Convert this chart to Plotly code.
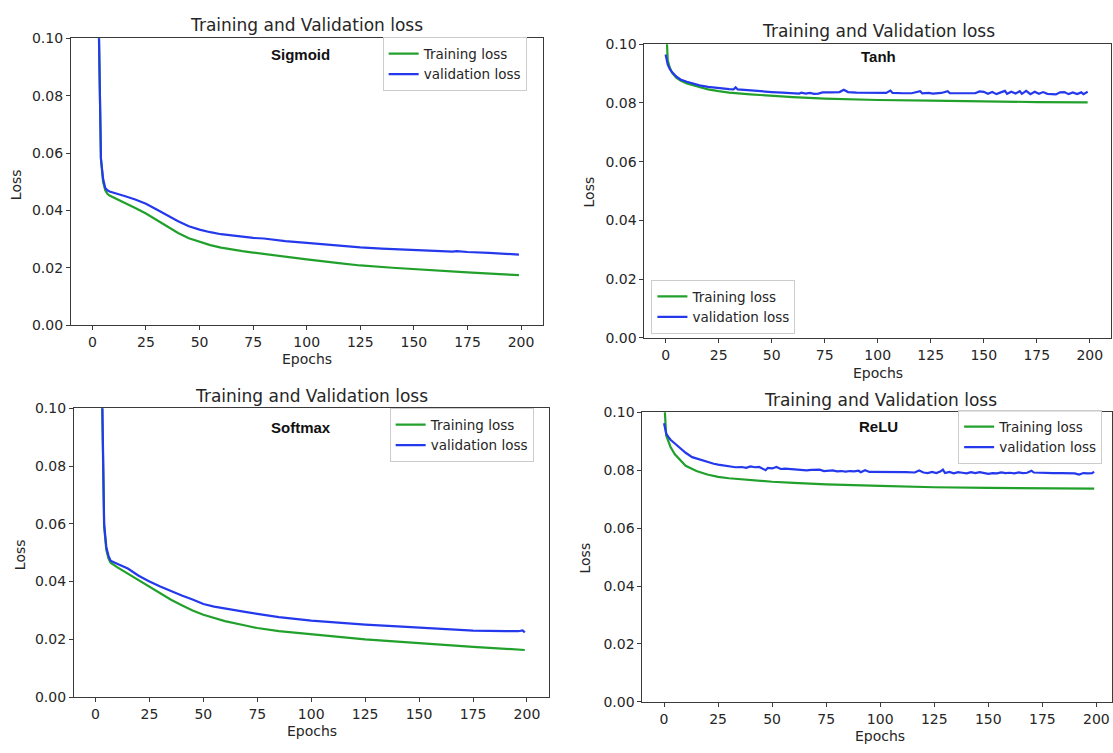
import plotly.graph_objects as go

W, H = 1113, 753

# ---------------- data ----------------
# Sigmoid
sig_train_ep = [2, 3, 4, 5, 6, 7, 8, 10, 15, 20, 25, 30, 35, 40, 45, 50, 55, 60, 65, 70, 75, 85,
                100, 115, 125, 140, 150, 165, 175, 190, 199]
sig_train = [0.19, 0.103, 0.058, 0.050, 0.047, 0.0458, 0.0452, 0.0445, 0.0425, 0.0408, 0.0389,
             0.0366, 0.0342, 0.0321, 0.0303, 0.0290, 0.0279, 0.0270, 0.0263, 0.0258, 0.0253,
             0.0243, 0.0229, 0.0216, 0.0208, 0.0200, 0.0195, 0.0188, 0.0184, 0.0178, 0.0174]
sig_val_ep = [2, 3, 4, 5, 6, 7, 8, 10, 15, 20, 25, 30, 35, 40, 45, 50, 55, 60, 65, 70, 75, 80,
              85, 90, 100, 110, 125, 135, 140, 150, 160, 168, 170, 175, 185, 199]
sig_val = [0.20, 0.105, 0.058, 0.051, 0.0478, 0.0470, 0.0466, 0.0462, 0.0450, 0.0438, 0.0423,
           0.0403, 0.0381, 0.0362, 0.0345, 0.0333, 0.0324, 0.0317, 0.0313, 0.0308, 0.0304,
           0.0302, 0.0297, 0.0293, 0.0287, 0.0280, 0.0271, 0.0267, 0.0265, 0.0261, 0.0258,
           0.0256, 0.0258, 0.0255, 0.0252, 0.0246]

# Tanh
tanh_train_ep = [0, 1, 2, 3, 5, 7, 10, 15, 20, 25, 30, 40, 50, 60, 75, 90, 100, 125, 150, 175, 199]
tanh_train = [0.110, 0.0945, 0.0920, 0.0903, 0.0886, 0.0876, 0.0866, 0.0855, 0.0846, 0.0840,
              0.0835, 0.0829, 0.0824, 0.0820, 0.0815, 0.0812, 0.0810, 0.0808, 0.0805, 0.0803,
              0.0802]
tanh_val_ep = [0, 1, 2, 3, 5, 7, 10, 13, 16, 20, 25, 30, 32, 33, 34, 40, 45, 50, 55, 60, 63, 64,
               66, 68, 70, 72, 74, 78, 82, 84, 86, 90, 95, 100, 104, 106, 107, 112, 116, 120, 121,
               124, 126, 130, 133, 134, 138, 142, 146, 148, 150, 152, 154, 156, 158, 160, 161,
               163, 165, 167, 168, 170, 172, 174, 176, 178, 180, 182, 184, 186, 188, 190, 192,
               194, 196, 197, 199]
tanh_val = [0.0965, 0.0930, 0.0915, 0.0905, 0.0890, 0.0880, 0.0872, 0.0866, 0.0860, 0.0855,
            0.0850, 0.0847, 0.0846, 0.0853, 0.0846, 0.0842, 0.0839, 0.0837, 0.0835, 0.0833,
            0.0832, 0.0835, 0.0832, 0.0834, 0.0831, 0.0832, 0.0836, 0.0836, 0.0837, 0.0845,
            0.0837, 0.0835, 0.0834, 0.0834, 0.0834, 0.0842, 0.0834, 0.0833, 0.0833, 0.0840,
            0.0833, 0.0834, 0.0832, 0.0834, 0.0840, 0.0833, 0.0832, 0.0833, 0.0833, 0.0839,
            0.0838, 0.0831, 0.0837, 0.0830, 0.0836, 0.0841, 0.0831, 0.0838, 0.0832, 0.0840,
            0.0831, 0.0841, 0.0830, 0.0838, 0.0831, 0.0837, 0.0831, 0.0829, 0.0829, 0.0836,
            0.0837, 0.0830, 0.0836, 0.0830, 0.0836, 0.0830, 0.0838]

# Softmax
soft_train_ep = [2, 3, 4, 5, 6, 7, 10, 15, 20, 25, 30, 35, 40, 45, 50, 55, 60, 70, 75, 85, 100,
                 115, 125, 140, 150, 165, 175, 190, 199]
soft_train = [0.19, 0.105, 0.059, 0.051, 0.048, 0.0465, 0.0450, 0.0427, 0.0404, 0.0381, 0.0358,
              0.0337, 0.0318, 0.0300, 0.0285, 0.0273, 0.0263, 0.0247, 0.0239, 0.0228, 0.0217,
              0.0207, 0.0200, 0.0192, 0.0186, 0.0179, 0.0174, 0.0167, 0.0163]
soft_val_ep = [2, 3, 4, 5, 6, 7, 10, 15, 20, 25, 30, 35, 40, 45, 50, 55, 60, 70, 75, 85, 100, 115,
               125, 140, 150, 165, 175, 190, 196, 198, 199]
soft_val = [0.20, 0.110, 0.060, 0.052, 0.0490, 0.0472, 0.0462, 0.0445, 0.0420, 0.0400, 0.0383,
            0.0367, 0.0352, 0.0338, 0.0322, 0.0313, 0.0306, 0.0294, 0.0288, 0.0277, 0.0265,
            0.0256, 0.0251, 0.0245, 0.0240, 0.0235, 0.0230, 0.0228, 0.0228, 0.0231, 0.0224]

# ReLU
relu_train_ep = [0, 1, 3, 5, 10, 15, 20, 25, 30, 40, 50, 60, 75, 100, 125, 150, 175, 199]
relu_train = [0.105, 0.0920, 0.0880, 0.0855, 0.0815, 0.0797, 0.0785, 0.0777, 0.0772, 0.0765,
              0.0760, 0.0756, 0.0751, 0.0746, 0.0741, 0.0739, 0.0737, 0.0736]
relu_val_ep = [0, 1, 2, 3, 5, 7, 10, 13, 15, 18, 20, 23, 25, 28, 30, 33, 36, 38, 40, 42, 44, 46,
               47, 48, 50, 52, 54, 56, 60, 64, 66, 68, 70, 72, 74, 76, 78, 80, 82, 84, 86, 88, 90,
               91, 93, 95, 98, 100, 104, 108, 112, 116, 118, 120, 122, 124, 126, 128, 129, 130,
               132, 134, 136, 138, 140, 142, 144, 146, 148, 150, 152, 154, 156, 158, 160, 162,
               164, 166, 168, 170, 171, 174, 176, 180, 184, 188, 190, 192, 194, 196, 198, 199]
relu_val = [0.0962, 0.0926, 0.0915, 0.0905, 0.0892, 0.0878, 0.0860, 0.0845, 0.0840, 0.0833,
            0.0828, 0.0822, 0.0819, 0.0816, 0.0812, 0.0810, 0.0811, 0.0808, 0.0813, 0.0810,
            0.0811, 0.0805, 0.0800, 0.0808, 0.0806, 0.0811, 0.0804, 0.0805, 0.0803, 0.0802,
            0.0799, 0.0801, 0.0801, 0.0802, 0.0797, 0.0798, 0.0799, 0.0796, 0.0797, 0.0795,
            0.0797, 0.0796, 0.0798, 0.0793, 0.0800, 0.0794, 0.0794, 0.0795, 0.0793, 0.0794,
            0.0793, 0.0792, 0.0799, 0.0792, 0.0790, 0.0794, 0.0790, 0.0796, 0.0802, 0.0790,
            0.0794, 0.0789, 0.0793, 0.0791, 0.0789, 0.0793, 0.0790, 0.0793, 0.0790, 0.0787,
            0.0790, 0.0789, 0.0792, 0.0790, 0.0791, 0.0789, 0.0792, 0.0790, 0.0791, 0.0798,
            0.0792, 0.0791, 0.0790, 0.0790, 0.0790, 0.0790, 0.0789, 0.0785, 0.0790, 0.0789,
            0.0790, 0.0794]

x_ticks = [0, 25, 50, 75, 100, 125, 150, 175, 200]
y_ticks = [0.00, 0.02, 0.04, 0.06, 0.08, 0.10]

GREEN = "#22a02c"
BLUE = "#2439ec"
AXIS = "#3a3a3a"
TXT = "#262626"
FONT = "DejaVu Sans"

# pixel boxes of each axes: left, right, top, bottom, plus x position of epoch 210
panels = [
    dict(name="Sigmoid", tr=(sig_train_ep, sig_train), va=(sig_val_ep, sig_val),
         box=(71, 543, 31, 324), right210=543,
         title=(307, 17), tag=(301, 48), ylab=(16, 180), xlab=(307, 359),
         legend=(383, 30)),
    dict(name="Tanh", tr=(tanh_train_ep, tanh_train), va=(tanh_val_ep, tanh_val),
         box=(645, 1112, 37, 337), right210=1112,
         title=(879, 23), tag=(879, 50), ylab=(590, 188), xlab=(879, 373),
         legend=(652, 278)),
    dict(name="Softmax", tr=(soft_train_ep, soft_train), va=(soft_val_ep, soft_val),
         box=(74, 549, 409, 704), right210=549,
         title=(312, 396), tag=(301, 429), ylab=(20, 558), xlab=(312, 739),
         legend=(390, 409)),
    dict(name="ReLU", tr=(relu_train_ep, relu_train), va=(relu_val_ep, relu_val),
         box=(643, 1113, 413, 709), right210=1119,
         title=(881, 400), tag=(879, 428), ylab=(586, 562), xlab=(881, 744),
         legend=(959, 411)),
]

fig = go.Figure()
layout = dict(
    width=W, height=H, margin=dict(l=0, r=0, t=0, b=0),
    paper_bgcolor="white", plot_bgcolor="white", showlegend=True,
    font=dict(family=FONT, color=TXT),
)
annotations = []

for i, p in enumerate(panels, start=1):
    sfx = "" if i == 1 else str(i)
    leg = "legend" if i == 1 else f"legend{i}"
    left, right, top, bottom = p["box"]
    # x range: -10..210 spans left..right210 px; right edge may be cut by the canvas
    ppu = (p["right210"] - left) / 220.0
    xmax = -10 + (right - left) / ppu

    fig.add_trace(go.Scatter(x=p["tr"][0], y=p["tr"][1], mode="lines", name="Training loss",
                             line=dict(color=GREEN, width=2.2), xaxis=f"x{sfx}", yaxis=f"y{sfx}",
                             legend=leg))
    fig.add_trace(go.Scatter(x=p["va"][0], y=p["va"][1], mode="lines", name="validation loss",
                             line=dict(color=BLUE, width=2.2), xaxis=f"x{sfx}", yaxis=f"y{sfx}",
                             legend=leg))

    layout[f"xaxis{sfx}"] = dict(
        domain=[left / W, min(right / W, 1.0)], anchor=f"y{sfx}", range=[-10, xmax],
        tickvals=x_ticks, ticks="outside", ticklen=4, tickcolor=AXIS, tickwidth=1,
        showline=True, linecolor=AXIS, linewidth=1, mirror=True,
        showgrid=False, zeroline=False, tickfont=dict(size=14, color=TXT, family=FONT),
    )
    layout[f"yaxis{sfx}"] = dict(
        domain=[1 - bottom / H, 1 - top / H], anchor=f"x{sfx}", range=[0, 0.10],
        tickvals=y_ticks, tickformat=".2f", ticks="outside", ticklen=4, tickcolor=AXIS,
        tickwidth=1, showline=True, linecolor=AXIS, linewidth=1, mirror=True,
        showgrid=False, zeroline=False, tickfont=dict(size=14, color=TXT, family=FONT),
    )
    lx, ly = p["legend"]
    layout[leg] = dict(
        x=lx / W, y=1 - ly / H, xanchor="left", yanchor="top",
        bgcolor="rgba(255,255,255,0.85)", bordercolor="#cccccc", borderwidth=1,
        font=dict(size=13.5, color=TXT, family=FONT), tracegroupgap=0, itemwidth=30,
    )

    tx, ty = p["title"]
    annotations.append(dict(x=tx / W, y=1 - ty / H, xref="paper", yref="paper",
                            text="Training and Validation loss", showarrow=False,
                            font=dict(size=17, color=TXT, family=FONT),
                            xanchor="center", yanchor="middle"))
    gx, gy = p["tag"]
    annotations.append(dict(x=gx / W, y=1 - gy / H, xref="paper", yref="paper",
                            text=f"<b>{p['name']}</b>", showarrow=False,
                            font=dict(size=15, color="#111111", family="Liberation Sans"),
                            xanchor="center", yanchor="middle"))
    ax_, ay_ = p["ylab"]
    annotations.append(dict(x=ax_ / W, y=1 - ay_ / H, xref="paper", yref="paper",
                            text="Loss", showarrow=False, textangle=-90,
                            font=dict(size=14, color=TXT, family=FONT),
                            xanchor="center", yanchor="middle"))
    ex, ey = p["xlab"]
    annotations.append(dict(x=ex / W, y=1 - ey / H, xref="paper", yref="paper",
                            text="Epochs", showarrow=False,
                            font=dict(size=14, color=TXT, family=FONT),
                            xanchor="center", yanchor="middle"))

layout["annotations"] = annotations
fig.update_layout(**layout)
fig.write_html("out.html")
